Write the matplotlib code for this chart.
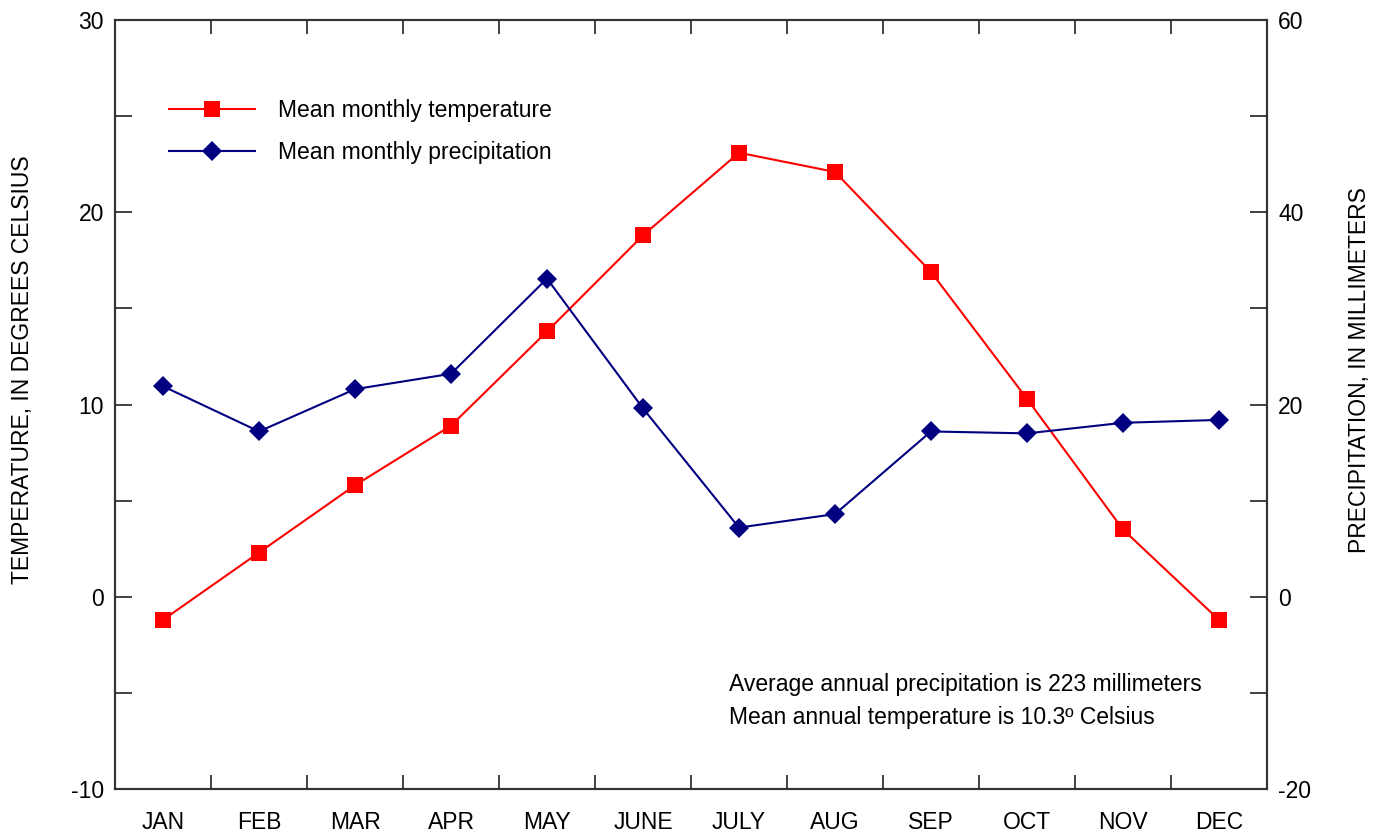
import matplotlib
matplotlib.use("Agg")
import matplotlib.pyplot as plt
from matplotlib.ticker import MultipleLocator, FixedLocator
from matplotlib.lines import Line2D

plt.rcParams['font.family'] = ['Liberation Sans', 'DejaVu Sans']
plt.rcParams['axes.unicode_minus'] = False

months = ["JAN", "FEB", "MAR", "APR", "MAY", "JUNE", "JULY", "AUG", "SEP", "OCT", "NOV", "DEC"]
temperature_c = [-1.2, 2.3, 5.8, 8.9, 13.8, 18.8, 23.1, 22.1, 16.9, 10.3, 3.5, -1.2]
precip_mm = [21.9, 17.2, 21.6, 23.2, 33.1, 19.6, 7.2, 8.6, 17.2, 17.0, 18.1, 18.4]

RED = "#ff0000"
NAVY = "#000080"
AXC = "#333333"
FS = 16.5
LW = 1.5

fig = plt.figure(figsize=(13.86, 8.36), dpi=100)
ax = fig.add_axes([0.083, 0.0562, 0.8311, 0.9198])
ax2 = ax.twinx()

x = list(range(len(months)))
ax.plot(x, temperature_c, color=RED, lw=LW, marker='s', ms=11,
        markeredgewidth=0, zorder=3)
ax2.plot(x, precip_mm, color=NAVY, lw=LW, marker='D', ms=10,
         markeredgewidth=0, zorder=3)

ax.set_xlim(-0.5, 11.5)
ax.set_ylim(-10, 30)
ax2.set_ylim(-20, 60)

for a in (ax, ax2):
    for s in a.spines.values():
        s.set_color(AXC)
        s.set_linewidth(1.5)

# x axis: labels at months, ticks at month boundaries
ax.xaxis.set_major_locator(FixedLocator(x))
ax.set_xticklabels(months, fontsize=FS)
ax.xaxis.set_minor_locator(FixedLocator([i + 0.5 for i in range(11)]))
ax.tick_params(axis='x', which='major', length=0, pad=16)
ax.tick_params(axis='x', which='minor', direction='in', length=10, width=1.3,
               color=AXC, top=True, bottom=True)

# left temperature axis
ax.yaxis.set_major_locator(MultipleLocator(10))
ax.yaxis.set_minor_locator(MultipleLocator(5))
ax.tick_params(axis='y', which='both', direction='in', length=12, width=1.3,
               color=AXC, labelsize=FS, left=True, right=False, pad=8)

# right precipitation axis
ax2.yaxis.set_major_locator(MultipleLocator(20))
ax2.yaxis.set_minor_locator(MultipleLocator(10))
ax2.tick_params(axis='y', which='both', direction='in', length=12, width=1.3,
                color=AXC, labelsize=FS, right=True, left=False, pad=8)

ax.set_ylabel("TEMPERATURE, IN DEGREES CELSIUS", fontsize=FS)
ax2.set_ylabel("PRECIPITATION, IN MILLIMETERS", fontsize=FS)
ax.yaxis.set_label_coords(-0.0807, 0.545)
ax2.yaxis.set_label_coords(1.0807, 0.545)
ax.yaxis.label.set_va('center')
ax2.yaxis.label.set_va('center')

handles = [
    Line2D([], [], color=RED, lw=LW, marker='s', ms=11, markeredgewidth=0),
    Line2D([], [], color=NAVY, lw=LW, marker='D', ms=10, markeredgewidth=0),
]
ax2.legend(handles, ["Mean monthly temperature", "Mean monthly precipitation"],
           loc='upper left', bbox_to_anchor=(0.039, 0.909), frameon=False,
           fontsize=FS, handlelength=3.75, handletextpad=1.0, labelspacing=0.8,
           borderaxespad=0)

ax2.text(0.533, 0.136, "Average annual precipitation is 223 millimeters",
         transform=ax.transAxes, fontsize=FS, ha='left', va='center')
ax2.text(0.533, 0.093, "Mean annual temperature is 10.3\u00ba Celsius",
         transform=ax.transAxes, fontsize=FS, ha='left', va='center')

fig.savefig("out.png", dpi=100)
